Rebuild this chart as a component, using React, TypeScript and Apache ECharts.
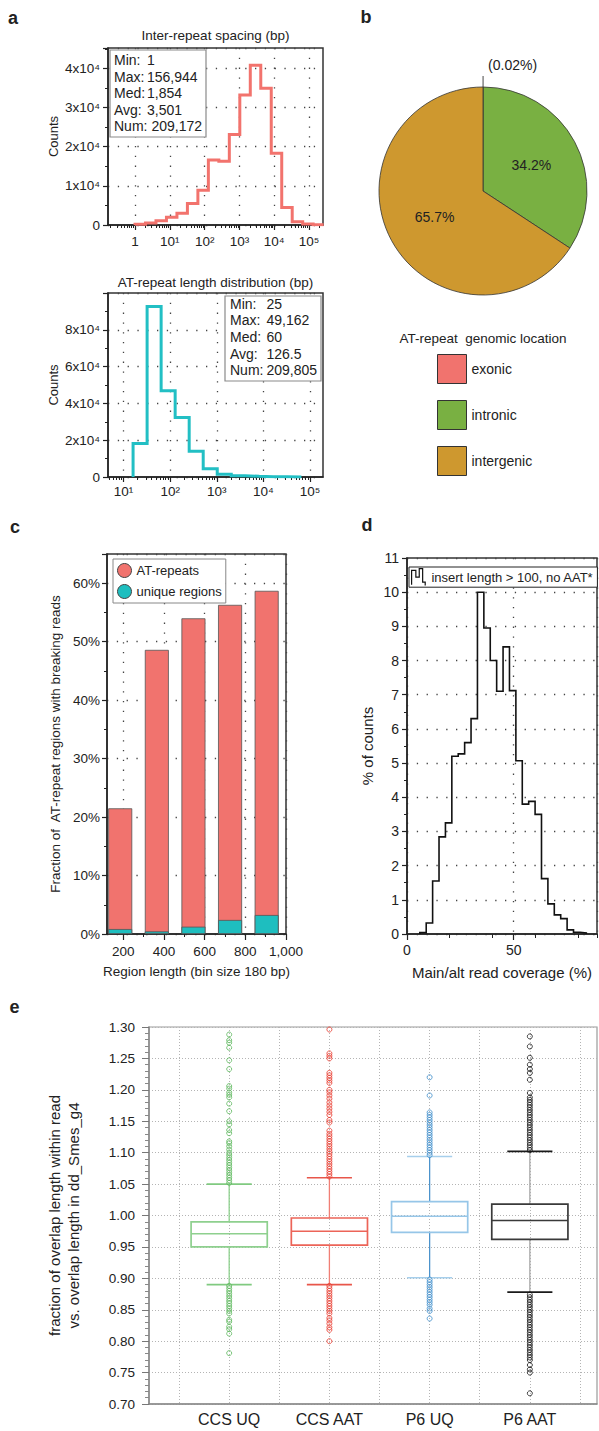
import React, { useEffect, useRef } from 'react';
import * as echarts from 'echarts';

// ---------------- Panel a (top): inter-repeat spacing ----------------
const spacingEdges = [1, 2, 4, 8, 16, 32, 64, 128, 256, 512, 1024, 2048, 4096, 8192, 16384, 32768, 65536, 131072, 262144];
const spacingCounts = [200, 500, 1100, 1950, 3000, 5500, 8900, 16600, 16300, 23100, 33200, 40800, 34900, 18300, 4500, 850, 250, 60];
const statLabels = ['Min:', 'Max:', 'Med:', 'Avg:', 'Num:'];
const spacingStatValues = ['1', '156,944', '1,854', '3,501', '209,172'];
const spacingDecades = [0, 1, 2, 3, 4, 5];
const spacingDecadeLabels = ['1', '10¹', '10²', '10³', '10⁴', '10⁵'];

// ---------------- Panel a (bottom): AT-repeat length ----------------
const lengthEdges = [16, 32, 64, 128, 256, 512, 1024, 2048, 4096, 8192, 16384, 32768, 65536];
const lengthCounts = [18200, 92700, 46900, 32400, 14000, 4500, 1450, 700, 350, 180, 90, 40];
const lengthStatValues = ['25', '49,162', '60', '126.5', '209,805'];
const lengthDecades = [1, 2, 3, 4, 5];
const lengthDecadeLabels = ['10¹', '10²', '10³', '10⁴', '10⁵'];

// ---------------- Panel b: genomic location ----------------
const locationNames = ['exonic', 'intronic', 'intergenic'];
const locationShares = [0.02, 34.2, 65.7];
const locationColors = ['#F1736E', '#79B042', '#CE982F'];

// ---------------- Panel c: breaking reads ----------------
const regionBinCenters = [185, 365, 545, 725, 905];
const atRepeatFraction = [21.5, 48.6, 54.0, 56.3, 58.7];
const uniqueFraction = [0.85, 0.45, 1.25, 2.4, 3.25];
const regionTicks = [200, 400, 600, 800, 1000];
const regionMinorTicks = [300, 500, 700, 900];

// ---------------- Panel d: coverage histogram ----------------
const coverageEdges = [6, 9, 12, 15, 18, 21, 24, 27, 30, 33, 36, 39, 42, 45, 48, 51, 54, 57, 60, 63, 66, 69, 72, 75, 78, 81, 84];
const coveragePct = [0.04, 0.32, 1.55, 2.84, 3.25, 5.2, 5.27, 5.6, 6.3, 10.0, 8.95, 8.0, 7.1, 8.4, 7.12, 5.07, 3.8, 3.88, 3.5, 1.62, 0.88, 0.56, 0.45, 0.12, 0.05, 0.03];

// ---------------- Panel e: box plots ----------------
const boxCategories = ['CCS UQ', 'CCS AAT', 'P6 UQ', 'P6 AAT'];
const boxLowerWhisker = [0.890, 0.890, 0.901, 0.878];
const boxQ1 = [0.950, 0.953, 0.973, 0.962];
const boxMedian = [0.971, 0.975, 0.999, 0.992];
const boxQ3 = [0.990, 0.996, 1.022, 1.018];
const boxUpperWhisker = [1.050, 1.060, 1.094, 1.102];

const ccsUqHigh = [1.052, 1.056, 1.060, 1.064, 1.068, 1.072, 1.076, 1.080, 1.084, 1.088, 1.092, 1.096, 1.100, 1.105, 1.110, 1.115, 1.118, 1.131, 1.136, 1.145, 1.150, 1.166, 1.178, 1.188, 1.192, 1.196, 1.202, 1.206, 1.233, 1.247, 1.267, 1.275, 1.279, 1.288];
const ccsUqLow = [0.888, 0.884, 0.880, 0.876, 0.872, 0.868, 0.864, 0.860, 0.856, 0.852, 0.848, 0.844, 0.834, 0.831, 0.823, 0.819, 0.812, 0.781];
const ccsAatHigh = [1.062, 1.066, 1.070, 1.074, 1.078, 1.082, 1.086, 1.090, 1.094, 1.098, 1.102, 1.106, 1.110, 1.114, 1.118, 1.122, 1.126, 1.130, 1.135, 1.148, 1.152, 1.160, 1.165, 1.170, 1.175, 1.180, 1.186, 1.191, 1.196, 1.200, 1.211, 1.215, 1.219, 1.223, 1.227, 1.250, 1.254, 1.258, 1.296];
const ccsAatLow = [0.888, 0.884, 0.880, 0.876, 0.872, 0.868, 0.864, 0.860, 0.856, 0.852, 0.848, 0.844, 0.837, 0.833, 0.828, 0.822, 0.818, 0.800];
const p6UqHigh = [1.096, 1.100, 1.104, 1.108, 1.112, 1.116, 1.120, 1.124, 1.128, 1.132, 1.136, 1.140, 1.144, 1.148, 1.152, 1.156, 1.160, 1.164, 1.191, 1.220];
const p6UqLow = [0.898, 0.894, 0.890, 0.886, 0.882, 0.878, 0.874, 0.870, 0.866, 0.862, 0.858, 0.852, 0.848, 0.836];
const p6AatHigh = [1.104, 1.108, 1.112, 1.116, 1.120, 1.124, 1.128, 1.132, 1.136, 1.140, 1.144, 1.148, 1.152, 1.156, 1.160, 1.164, 1.168, 1.172, 1.176, 1.180, 1.184, 1.188, 1.195, 1.216, 1.227, 1.233, 1.240, 1.251, 1.269, 1.285];
const p6AatLow = [0.874, 0.870, 0.866, 0.862, 0.858, 0.854, 0.850, 0.846, 0.842, 0.838, 0.834, 0.830, 0.826, 0.822, 0.818, 0.814, 0.810, 0.806, 0.802, 0.798, 0.794, 0.790, 0.786, 0.782, 0.778, 0.774, 0.770, 0.762, 0.755, 0.750, 0.717];
const outlierGroups = [ccsUqHigh.concat(ccsUqLow), ccsAatHigh.concat(ccsAatLow), p6UqHigh.concat(p6UqLow), p6AatHigh.concat(p6AatLow)];

// ---------------- styles ----------------
const FONT = '"Liberation Sans", Arial, Helvetica, sans-serif';
const INK = '#222';
const boxStroke = ['#8ED08E', '#EC6458', '#96C6E8', '#3A3A3A'];
const whiskerStroke = ['#8ED08E', '#F07F75', '#4C93CC', '#A8A8A8'];
const capStroke = ['#80CA80', '#E8564A', '#A6CFEC', '#1A1A1A'];
const outlierStroke = ['#5DB85D', '#E8372B', '#3C8CCB', '#111111'];

const dotted = { color: '#444', width: 1.3, type: [1.3, 8.5] };
const eGrid = { color: '#b4b4b4', width: 1, type: [1, 2] };

function stepPoints(edges: number[], counts: number[], tx: (v: number) => number) {
  const pts: number[][] = [[tx(edges[0]), 0]];
  counts.forEach((c, i) => {
    pts.push([tx(edges[i]), c]);
    pts.push([tx(edges[i + 1]), c]);
  });
  pts.push([tx(edges[edges.length - 1]), 0]);
  return pts;
}

function logMinor(lo: number, hi: number) {
  const out: number[] = [];
  for (let n = Math.floor(lo); n <= Math.ceil(hi); n++) {
    for (let m = 2; m <= 9; m++) {
      const v = n + Math.log10(m);
      if (v > lo && v < hi) out.push(v);
    }
  }
  return out;
}

const sci = (v: number) => (v === 0 ? '0' : `${Math.round(v / 10000)}x10⁴`);

function majorAxis(extra: any) {
  return {
    type: 'value',
    position: 'bottom',
    axisLine: { show: true, onZero: false, lineStyle: { color: INK, width: 1.5 } },
    axisTick: { show: true, length: 5, lineStyle: { color: INK, width: 1.2 } },
    axisLabel: { color: INK, fontSize: 13.5, fontFamily: FONT },
    splitLine: { show: true, lineStyle: dotted },
    ...extra,
  };
}
function minorAxis(gridIndex: number, min: number, max: number, tick: any) {
  return {
    type: 'value',
    gridIndex,
    min,
    max,
    position: 'bottom',
    axisLine: { show: false, onZero: false },
    axisLabel: { show: false },
    splitLine: { show: false },
    axisTick: { show: true, length: 3, lineStyle: { color: INK, width: 1 }, ...tick },
  };
}
function yAxisDark(extra: any) {
  return {
    type: 'value',
    axisLine: { show: true, onZero: false, lineStyle: { color: INK, width: 1.5 } },
    axisTick: { show: true, length: 5, lineStyle: { color: INK, width: 1.2 } },
    minorTick: { show: true, splitNumber: 2, length: 3, lineStyle: { color: INK, width: 1 } },
    axisLabel: { color: INK, fontSize: 13.5, fontFamily: FONT, margin: 8 },
    splitLine: { show: true, lineStyle: dotted },
    nameLocation: 'middle',
    nameTextStyle: { color: INK, fontSize: 13, fontFamily: FONT },
    ...extra,
  };
}

function textEl(x: number, y: number, text: string, fontSize: number, extra: any = {}) {
  return {
    type: 'text',
    x,
    y,
    z: 20,
    style: {
      text,
      fill: INK,
      fontSize,
      fontFamily: FONT,
      textAlign: extra.align || 'left',
      textVerticalAlign: 'middle',
      align: extra.align || 'left',
      verticalAlign: 'middle',
      fontWeight: extra.fontWeight || 'normal',
    },
  };
}

function buildOption() {
  const aMin = -0.776, aMax = 5.40;
  const bMin = 0.666, bMax = 5.28;
  const grids = [
    { left: 108, top: 48, width: 215, height: 177 },
    { left: 108, top: 293, width: 215, height: 184 },
    { left: 107, top: 554, width: 179, height: 380 },
    { left: 407, top: 558, width: 190, height: 376 },
    { left: 149, top: 1027, width: 448, height: 377 },
  ].map((g, i) => ({
    ...g,
    show: true,
    borderColor: i === 4 ? '#9a9a9a' : '#333',
    borderWidth: i === 4 ? 1.2 : 1.5,
    backgroundColor: 'transparent',
    containLabel: false,
    outerBoundsMode: 'none',
  }));

  const graphics: any[] = [];
  // panel letters
  [['a', 13, 18], ['b', 366, 17], ['c', 15, 527], ['d', 367, 525], ['e', 14.5, 1007]].forEach(([t, x, y]) => {
    graphics.push(textEl(x as number, y as number, t as string, 18, { align: 'center', fontWeight: 'bold' }));
  });
  graphics.push(textEl(215.5, 35, 'Inter-repeat spacing (bp)', 13.5, { align: 'center' }));
  graphics.push(textEl(215.5, 282, 'AT-repeat length distribution (bp)', 13.5, { align: 'center' }));
  graphics.push(textEl(483, 338, 'AT-repeat  genomic location', 13.5, { align: 'center' }));

  // stats boxes
  graphics.push({ type: 'rect', z: 15, shape: { x: 110, y: 50, width: 96, height: 87 }, style: { fill: '#fff', stroke: '#8a8a8a', lineWidth: 1.2 } });
  statLabels.forEach((l, i) => {
    graphics.push(textEl(114, 60 + 16.5 * i, l, 14));
    graphics.push(textEl(i === 4 ? 151.5 : 147, 60 + 16.5 * i, spacingStatValues[i], 14));
  });
  graphics.push({ type: 'rect', z: 15, shape: { x: 225, y: 296, width: 96, height: 85 }, style: { fill: '#fff', stroke: '#8a8a8a', lineWidth: 1.2 } });
  statLabels.forEach((l, i) => {
    graphics.push(textEl(230, 303.5 + 16.7 * i, l, 14));
    graphics.push(textEl(266.5, 303.5 + 16.7 * i, lengthStatValues[i], 14));
  });

  const xAxis: any[] = [
    // 0: a top major
    majorAxis({
      gridIndex: 0, min: aMin, max: aMax,
      axisTick: { show: true, length: 5, customValues: spacingDecades, lineStyle: { color: INK, width: 1.2 } },
      axisLabel: { customValues: spacingDecades, color: INK, fontSize: 13.5, fontFamily: FONT, margin: 9, formatter: (v: number) => spacingDecadeLabels[spacingDecades.indexOf(Math.round(v))] },
    }),
    // 1: a top minor
    minorAxis(0, aMin, aMax, { customValues: logMinor(aMin, aMax) }),
    // 2: a bottom major
    majorAxis({
      gridIndex: 1, min: bMin, max: bMax,
      axisTick: { show: true, length: 5, customValues: lengthDecades, lineStyle: { color: INK, width: 1.2 } },
      axisLabel: { customValues: lengthDecades, color: INK, fontSize: 13.5, fontFamily: FONT, margin: 7, formatter: (v: number) => lengthDecadeLabels[lengthDecades.indexOf(Math.round(v))] },
    }),
    // 3: a bottom minor
    minorAxis(1, bMin, bMax, { customValues: logMinor(bMin, bMax) }),
    // 4: c major
    majorAxis({
      gridIndex: 2, min: 120, max: 1000,
      axisTick: { show: true, length: 6, customValues: regionTicks, lineStyle: { color: INK, width: 1.2 } },
      axisLabel: { customValues: regionTicks, color: INK, fontSize: 13.5, fontFamily: FONT, margin: 10, formatter: (v: number) => v.toLocaleString('en-US') },
      name: 'Region length (bin size 180 bp)', nameLocation: 'middle', nameGap: 30,
      nameTextStyle: { color: INK, fontSize: 13.5, fontFamily: FONT },
    }),
    // 5: c minor
    minorAxis(2, 120, 1000, { customValues: regionMinorTicks }),
    // 6: d major
    majorAxis({
      gridIndex: 3, min: 0, max: 89, interval: 50,
      axisTick: { show: true, length: 6, lineStyle: { color: INK, width: 1.2 } },
      axisLabel: { color: INK, fontSize: 14, fontFamily: FONT, margin: 9, showMaxLabel: false },
      name: 'Main/alt read coverage (%)', nameLocation: 'middle', nameGap: 31,
      nameTextStyle: { color: INK, fontSize: 15, fontFamily: FONT },
    }),
    // 7: d minor
    minorAxis(3, 0, 89, { interval: 10, length: 4 }),
    // 8: e
    {
      type: 'value', gridIndex: 4, min: 0.2, max: 4.67, position: 'bottom',
      axisLine: { show: true, onZero: false, lineStyle: { color: '#888', width: 1.5 } },
      axisTick: { show: false, customValues: [0.5, 1, 1.5, 2, 2.5, 3, 3.5, 4, 4.5] },
      axisLabel: { customValues: [1, 2, 3, 4], color: INK, fontSize: 16, fontFamily: FONT, margin: 7, formatter: (v: number) => boxCategories[Math.round(v) - 1] },
      splitLine: { show: true, lineStyle: eGrid },
    },
  ];

  const yAxis: any[] = [
    yAxisDark({
      gridIndex: 0, min: 0, max: 45200, interval: 10000,
      axisLabel: { color: INK, fontSize: 13.5, fontFamily: FONT, margin: 8, showMaxLabel: false, formatter: sci },
      name: 'Counts', nameGap: 48,
    }),
    yAxisDark({
      gridIndex: 1, min: 0, max: 100000, interval: 20000,
      axisLabel: { color: INK, fontSize: 13.5, fontFamily: FONT, margin: 8, showMaxLabel: false, formatter: sci },
      name: 'Counts', nameGap: 48,
    }),
    yAxisDark({
      gridIndex: 2, min: 0, max: 65, interval: 10,
      axisLabel: { color: INK, fontSize: 13.5, fontFamily: FONT, margin: 7, showMaxLabel: false, formatter: '{value}%' },
      name: 'Fraction of  AT-repeat regions with breaking reads', nameGap: 45,
      nameTextStyle: { color: INK, fontSize: 13.5, fontFamily: FONT },
    }),
    yAxisDark({
      gridIndex: 3, min: 0, max: 11, interval: 1,
      axisLabel: { color: INK, fontSize: 14, fontFamily: FONT, margin: 8 },
      name: '% of counts', nameGap: 32,
      nameTextStyle: { color: INK, fontSize: 15, fontFamily: FONT },
    }),
    {
      type: 'value', gridIndex: 4, min: 0.7, max: 1.3, interval: 0.05,
      axisLine: { show: true, onZero: false, lineStyle: { color: '#888', width: 1.5 } },
      axisTick: { show: true, length: 7, lineStyle: { color: '#777', width: 1 } },
      minorTick: { show: true, splitNumber: 5, length: 4, lineStyle: { color: '#888', width: 1 } },
      axisLabel: { color: INK, fontSize: 13.5, fontFamily: FONT, margin: 14, formatter: (v: number) => v.toFixed(2) },
      splitLine: { show: true, lineStyle: eGrid },
      name: 'fraction of overlap length within read\nvs. overlap length in dd_Smes_g4',
      nameLocation: 'middle', nameGap: 66,
      nameTextStyle: { color: INK, fontSize: 15, fontFamily: FONT, lineHeight: 19, align: 'center' },
    },
  ];

  const series: any[] = [
    {
      name: 'Inter-repeat spacing', type: 'line', xAxisIndex: 0, yAxisIndex: 0,
      data: stepPoints(spacingEdges, spacingCounts, Math.log10), symbol: 'none', z: 3,
      lineStyle: { color: '#F2736D', width: 3, join: 'miter' }, clip: true,
    },
    {
      name: 'AT-repeat length', type: 'line', xAxisIndex: 2, yAxisIndex: 1,
      data: stepPoints(lengthEdges, lengthCounts, Math.log10), symbol: 'none', z: 3,
      lineStyle: { color: '#22BFC4', width: 3, join: 'miter' }, clip: true,
    },
    {
      name: 'AT-repeat genomic location', type: 'pie', center: [483, 191], radius: 104,
      startAngle: 90, clockwise: true, avoidLabelOverlap: false, minShowLabelAngle: 0,
      itemStyle: { borderColor: '#333', borderWidth: 0.8 },
      label: { show: true, position: 'inside', color: INK, fontSize: 14, fontFamily: FONT, formatter: '{c}%' },
      labelLine: { show: false },
      data: locationNames.map((n, i) => ({
        name: n,
        value: locationShares[i],
        itemStyle: { color: locationColors[i] },
        label: i === 0
          ? { show: true, position: 'outside', formatter: '({c}%)\n ', lineHeight: 22, color: INK, fontSize: 14 }
          : { show: true, position: 'inside' },
        labelLine: i === 0 ? { show: true, length: 11, length2: 0, lineStyle: { color: '#333', width: 0.9 } } : { show: false },
      })),
    },
    {
      name: 'AT-repeats', type: 'bar', xAxisIndex: 4, yAxisIndex: 2, barWidth: 24, barGap: '-100%',
      itemStyle: { color: '#F1736E', borderColor: '#555', borderWidth: 0.8 },
      data: regionBinCenters.map((x, i) => [x, atRepeatFraction[i]]),
    },
    {
      name: 'unique regions', type: 'bar', xAxisIndex: 4, yAxisIndex: 2, barWidth: 24, barGap: '-100%',
      itemStyle: { color: '#1EBEBF', borderColor: '#555', borderWidth: 0.8 },
      data: regionBinCenters.map((x, i) => [x, uniqueFraction[i]]),
    },
    {
      name: 'insert length > 100, no AAT*', type: 'line', xAxisIndex: 6, yAxisIndex: 3,
      data: stepPoints(coverageEdges, coveragePct, (v) => v), symbol: 'none', z: 3,
      lineStyle: { color: '#111', width: 1.6, join: 'miter' },
      itemStyle: { color: '#111' },
    },
    {
      name: 'boxes', type: 'custom', xAxisIndex: 8, yAxisIndex: 4,
      dimensions: ['x', 'lo', 'q1', 'med', 'q3', 'hi'],
      encode: { x: 0, y: [1, 2, 3, 4, 5] },
      data: boxCategories.map((_, i) => [i + 1, boxLowerWhisker[i], boxQ1[i], boxMedian[i], boxQ3[i], boxUpperWhisker[i]]),
      renderItem: (params: any, api: any) => {
        const i = params.dataIndex;
        const x = api.value(0);
        const pLo = api.coord([x, api.value(1)]);
        const pQ1 = api.coord([x, api.value(2)]);
        const pMed = api.coord([x, api.value(3)]);
        const pQ3 = api.coord([x, api.value(4)]);
        const pHi = api.coord([x, api.value(5)]);
        const unit = api.size([1, 0])[0];
        const bw = unit * 0.76;
        const cw = unit * 0.45;
        const cx = pMed[0];
        const ws = { stroke: whiskerStroke[i], lineWidth: 1.3 };
        const cs = { stroke: capStroke[i], lineWidth: 1.6 };
        return {
          type: 'group',
          children: [
            { type: 'line', shape: { x1: cx, y1: pHi[1], x2: cx, y2: pQ3[1] }, style: ws },
            { type: 'line', shape: { x1: cx, y1: pQ1[1], x2: cx, y2: pLo[1] }, style: ws },
            { type: 'line', shape: { x1: cx - cw / 2, y1: pHi[1], x2: cx + cw / 2, y2: pHi[1] }, style: cs },
            { type: 'line', shape: { x1: cx - cw / 2, y1: pLo[1], x2: cx + cw / 2, y2: pLo[1] }, style: cs },
            { type: 'rect', shape: { x: cx - bw / 2, y: pQ3[1], width: bw, height: pQ1[1] - pQ3[1] }, style: { fill: 'none', stroke: boxStroke[i], lineWidth: 1.7 } },
            { type: 'line', shape: { x1: cx - bw / 2, y1: pMed[1], x2: cx + bw / 2, y2: pMed[1] }, style: { stroke: boxStroke[i], lineWidth: 1.5 } },
          ],
        };
      },
    },
    ...outlierGroups.map((vals, i) => ({
      name: boxCategories[i] + ' outliers', type: 'scatter', xAxisIndex: 8, yAxisIndex: 4,
      symbol: 'circle', symbolSize: 5, z: 4,
      itemStyle: { color: 'rgba(0,0,0,0)', borderColor: outlierStroke[i], borderWidth: 1 },
      data: vals.map((v) => [i + 1, v]),
    })),
  ];

  const legend: any[] = [
    {
      data: locationNames, orient: 'vertical', left: 437, top: 354, itemWidth: 29, itemHeight: 29, itemGap: 16,
      icon: 'rect', selectedMode: false, padding: 0,
      itemStyle: { borderColor: '#333', borderWidth: 1 },
      textStyle: { color: INK, fontSize: 14, fontFamily: FONT },
    },
    {
      data: ['AT-repeats', 'unique regions'], orient: 'vertical', left: 113, top: 559, itemWidth: 14, itemHeight: 14, itemGap: 6,
      icon: 'circle', selectedMode: false, padding: [4, 4, 4, 4], backgroundColor: '#fff', borderColor: '#888', borderWidth: 1, z: 10,
      itemStyle: { borderColor: '#444', borderWidth: 1 },
      textStyle: { color: INK, fontSize: 13, fontFamily: FONT },
    },
    {
      data: ['insert length > 100, no AAT*'], left: 409, top: 567, itemWidth: 16, itemHeight: 17,
      icon: 'path://M0,20L0,3L5,3L5,11L9,11L9,1L13,1L13,17L16,17L16,21',
      selectedMode: false, padding: [1, 4, 1, 2], backgroundColor: '#fff', borderColor: '#222', borderWidth: 1, z: 10,
      itemStyle: { color: 'rgba(0,0,0,0)', borderColor: '#111', borderWidth: 1.2 },
      lineStyle: { opacity: 0 },
      textStyle: { color: INK, fontSize: 13, fontFamily: FONT },
    },
  ];

  return {
    animation: false,
    backgroundColor: '#fff',
    textStyle: { fontFamily: FONT },
    grid: grids,
    xAxis,
    yAxis,
    legend,
    series,
    graphic: { elements: graphics },
  };
}

export default function App() {
  const ref = useRef<HTMLDivElement>(null);
  useEffect(() => {
    const chart = echarts.init(ref.current as HTMLDivElement, null, { renderer: 'svg' });
    chart.setOption(buildOption() as any);
    return () => chart.dispose();
  }, []);
  return (
    <div
      ref={ref}
      style={{ position: 'absolute', left: 0, top: 0, width: 599, height: 1431, background: '#fff' }}
    />
  );
}
